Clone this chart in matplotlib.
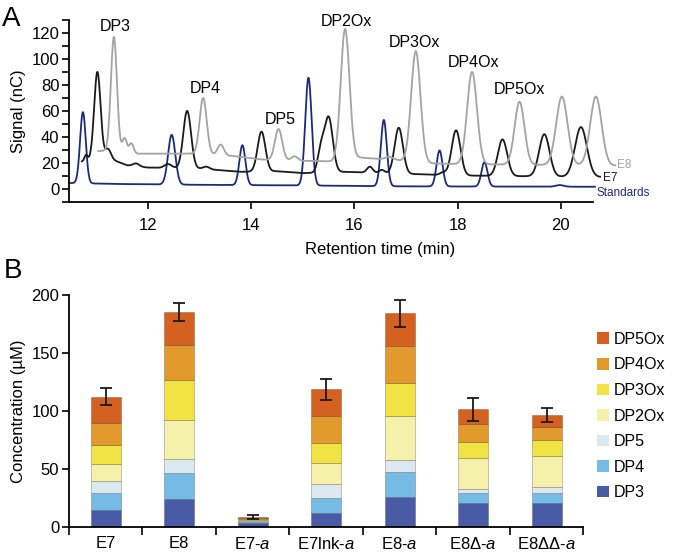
import numpy as np
import matplotlib
matplotlib.use('Agg')
import matplotlib.pyplot as plt
from matplotlib.patches import Patch

plt.rcParams['font.family'] = ['Liberation Sans', 'DejaVu Sans']
plt.rcParams['mathtext.fontset'] = 'custom'
plt.rcParams['mathtext.rm'] = 'Liberation Sans'
plt.rcParams['mathtext.it'] = 'Liberation Sans:italic'

# Panel A: chromatogram peaks (centre min, apex nC, sigma min)
std_range = (10.47, 20.66)
std_base_x = [10.47, 11.5, 13.0, 15.0, 17.0, 20.66]
std_base_y = [4.4, 3.6, 3.0, 2.5, 1.8, 1.5]
std_pk_x = [10.74, 12.46, 13.83, 15.11, 16.57, 17.65, 18.52, 19.98]
std_pk_y = [59, 41.5, 33.5, 85.5, 53, 29.5, 20.5, 2.8]
std_pk_w = [0.055, 0.07, 0.058, 0.062, 0.058, 0.058, 0.058, 0.075]

e7_range = (10.72, 20.76)
e7_base_x = [10.72, 11.2, 11.4, 11.6, 12.0, 13.0, 13.8, 14.5, 15.0, 15.8, 16.2, 17.0, 18.0, 20.76]
e7_base_y = [21, 24, 21, 18, 16.3, 15.5, 13, 13.5, 12, 13, 12.5, 11.5, 10.2, 9]
e7_pk_x = [10.80, 11.02, 11.23, 11.77, 12.39, 12.76, 13.13, 14.20, 15.35, 15.50,
           16.30, 16.53, 16.86, 17.72, 17.97, 18.87, 19.68, 20.39]
e7_pk_y = [26, 90, 30.5, 19.5, 19, 60, 17, 44, 29, 55,
           17, 14.5, 47, 12.5, 45, 38, 42, 47.5]
e7_pk_w = [0.03, 0.062, 0.055, 0.06, 0.07, 0.075, 0.06, 0.075, 0.06, 0.08,
           0.055, 0.05, 0.08, 0.06, 0.085, 0.09, 0.1, 0.115]

e8_range = (11.04, 21.05)
e8_base_x = [11.04, 11.5, 11.8, 13.0, 13.7, 14.2, 15.0, 15.6, 16.1, 16.8, 17.5, 18.0, 21.05]
e8_base_y = [29, 30, 27, 27, 25, 22.5, 21.5, 21, 24, 22, 19.5, 19, 17.8]
e8_pk_x = [11.34, 11.55, 11.68, 13.07, 13.41, 14.53, 14.84, 15.82, 16.68,
           17.19, 18.28, 19.20, 20.02, 20.68]
e8_pk_y = [117, 39, 35, 70, 34, 46, 25, 123, 24.5,
           106, 90, 67, 71, 71]
e8_pk_w = [0.058, 0.04, 0.04, 0.068, 0.06, 0.07, 0.06, 0.085, 0.08,
           0.09, 0.095, 0.095, 0.11, 0.11]

peak_names = ['DP3', 'DP4', 'DP5', 'DP2Ox', 'DP3Ox', 'DP4Ox', 'DP5Ox']
peak_lab_x = [11.37, 13.12, 14.56, 15.84, 17.17, 18.31, 19.20]
peak_lab_y = [125, 77, 53, 129, 113, 97, 76.5]

# Panel B: stacked concentrations (uM)
samples = ['E7', 'E8', 'E7-$a$', 'E7lnk-$a$', 'E8-$a$', 'E8\u0394-$a$', 'E8\u0394\u0394-$a$']
dp3 = [15, 24, 3.5, 12.3, 26.4, 20.6, 20.6]
dp4 = [14.5, 22.5, 1.0, 12.7, 21.2, 9.2, 8.6]
dp5 = [10, 12.5, 0.5, 12, 10.4, 3.4, 5.2]
dp2ox = [15, 33.5, 1.2, 18, 37.8, 26.8, 27.2]
dp3ox = [16, 34, 1.0, 17.3, 28.7, 13.2, 13.5]
dp4ox = [19, 30.5, 0.9, 23.5, 31.5, 15.5, 11]
dp5ox = [23, 28.5, 0.6, 23, 28.2, 12.9, 10.9]
err = [7, 8, 1.5, 9, 11.7, 10, 6]

seg_colors = ['#4a5ba6', '#74bbe6', '#dce9f1', '#f5f0aa', '#f0e343', '#e19a2b', '#d4611f']


def trace(rng, bx, by, px, py, pw):
    x = np.linspace(rng[0], rng[1], 2000)
    base = np.interp(x, bx, by)
    y = base.copy()
    for c, h, s in zip(px, py, pw):
        amp = h - np.interp(c, bx, by)
        y += amp * np.exp(-0.5 * ((x - c) / s) ** 2)
    return x, y


fig = plt.figure(figsize=(6.77, 5.55), dpi=100)

# ---------------- panel A ----------------
ax = fig.add_axes([0.1019, 0.6366, 0.8256, 0.3274])
for rng, bx, by, px, py, pw, col in [
        (std_range, std_base_x, std_base_y, std_pk_x, std_pk_y, std_pk_w, '#1c2a78'),
        (e7_range, e7_base_x, e7_base_y, e7_pk_x, e7_pk_y, e7_pk_w, '#1a1a1a'),
        (e8_range, e8_base_x, e8_base_y, e8_pk_x, e8_pk_y, e8_pk_w, '#a3a3a3')]:
    x, y = trace(rng, bx, by, px, py, pw)
    ax.plot(x, y, color=col, lw=1.3, clip_on=False)

for name, lx, ly in zip(peak_names, peak_lab_x, peak_lab_y):
    ax.text(lx, ly, name, ha='center', va='center', fontsize=11.5)

ax.text(21.08, 18.5, 'E8', color='#a3a3a3', fontsize=8.5, ha='left', va='center')
ax.text(20.82, 8, 'E7', color='#1a1a1a', fontsize=8.5, ha='left', va='center')
ax.text(20.70, -3, 'Standards', color='#1c2a78', fontsize=8.5, ha='left', va='center')

ax.set_xlim(10.47, 21.3)
ax.set_ylim(-10, 130)
ax.set_xticks([12, 14, 16, 18, 20])
ax.set_yticks(np.arange(0, 121, 20))
ax.set_yticks(np.arange(-10, 131, 10), minor=True)
ax.spines['top'].set_visible(False)
ax.spines['right'].set_visible(False)
ax.spines['bottom'].set_bounds(10.47, 20.62)
ax.spines['left'].set_bounds(-10, 130)
for sp in ['left', 'bottom']:
    ax.spines[sp].set_linewidth(1.3)
ax.tick_params(which='both', direction='out', length=5, width=1.2, labelsize=12, pad=2)
ax.tick_params(axis='x', pad=7)
ax.set_ylabel('Signal (nC)', fontsize=12, labelpad=4)
ax.set_xlabel('Retention time (min)', fontsize=12, labelpad=6)
ax.xaxis.set_label_coords(0.556, -0.22)

# ---------------- panel B ----------------
ax2 = fig.add_axes([0.1019, 0.0499, 0.7597, 0.4186])
xs = np.arange(len(samples))
series = [dp3, dp4, dp5, dp2ox, dp3ox, dp4ox, dp5ox]
bottom = np.zeros(len(samples))
for vals, col in zip(series, seg_colors):
    ax2.bar(xs, vals, 0.41, bottom=bottom, color=col,
            edgecolor=(0, 0, 0, 0.25), linewidth=0.6, zorder=2)
    bottom += np.array(vals)
ax2.errorbar(xs, bottom, yerr=err, fmt='none', ecolor='#1a1a1a',
             elinewidth=1.3, capsize=4.5, capthick=1.3, zorder=3)

ax2.set_xlim(-0.5, 6.5)
ax2.set_ylim(0, 200)
ax2.set_yticks([0, 50, 100, 150, 200])
ax2.set_xticks(xs)
ax2.set_xticklabels(samples)
ax2.set_xticks(np.arange(-0.5, 7, 1), minor=True)
ax2.tick_params(axis='x', which='major', length=0, pad=6, labelsize=12)
ax2.tick_params(axis='x', which='minor', direction='out', length=6, width=1.2)
ax2.tick_params(axis='y', direction='out', length=5, width=1.2, labelsize=12, pad=2)
ax2.spines['top'].set_visible(False)
ax2.spines['right'].set_visible(False)
for sp in ['left', 'bottom']:
    ax2.spines[sp].set_linewidth(1.3)
ax2.set_ylabel('Concentration (\u00b5M)', fontsize=12, labelpad=4)

handles = [Patch(facecolor=c, edgecolor='none') for c in seg_colors[::-1]]
ax2.legend(handles, peak_names[::-1], loc='upper left', bbox_to_anchor=(0.882, 0.402),
           bbox_transform=fig.transFigure, frameon=False, fontsize=11.5,
           handlelength=0.75, handleheight=0.75, handletextpad=0.3,
           labelspacing=0.66, borderpad=0, borderaxespad=0)

fig.text(0.003, 0.99, 'A', fontsize=20, ha='left', va='top')
fig.text(0.006, 0.535, 'B', fontsize=20, ha='left', va='top')

plt.savefig('out.png', dpi=100)
